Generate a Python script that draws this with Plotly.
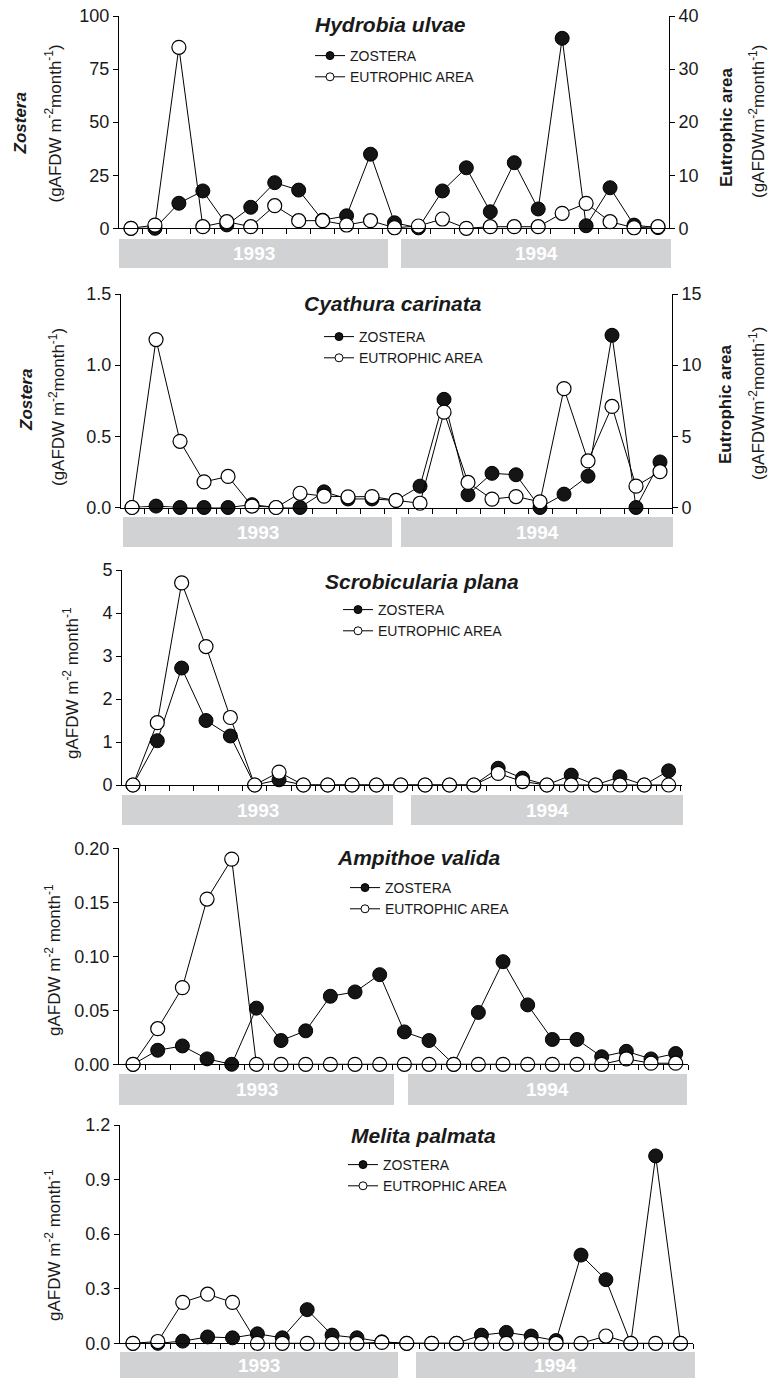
import plotly.graph_objects as go

W, H = 769, 1379
FONT = "Liberation Sans, Arial, Helvetica, sans-serif"
INK = "#1a1a1a"

# ---------------- data ----------------
samples = [0, 1, 2, 3, 4, 5, 6, 7, 8, 9, 10, 11, 12, 13, 14, 15, 16, 17, 18, 19, 20, 21, 22]
year_labels = ["1993", "1994"]
series_names = ["ZOSTERA", "EUTROPHIC AREA"]
species = ["Hydrobia ulvae", "Cyathura carinata", "Scrobicularia plana",
           "Ampithoe valida", "Melita palmata"]

hydrobia_zostera = [0, 0, 11.8, 17.6, 1.6, 9.9, 21.5, 18.0, 3.8, 5.9, 34.9, 2.6, 0.2,
                    17.6, 28.5, 7.8, 30.9, 9.1, 89.5, 1.2, 19.1, 1.5, 0.3]
hydrobia_eutrophic = [0, 0.6, 34.1, 0.3, 1.25, 0.3, 4.26, 1.44, 1.44, 0.62, 1.44, 0.1, 0.43,
                      1.75, 0, 0.3, 0.3, 0.3, 2.83, 4.7, 1.25, 0.1, 0.3]

cyathura_zostera = [0, 0.01, 0, 0, 0, 0.02, 0, 0, 0.11, 0.06, 0.06, 0.05, 0.15,
                    0.76, 0.09, 0.24, 0.23, 0, 0.094, 0.22, 1.21, 0, 0.32]
cyathura_eutrophic = [0, 11.8, 4.65, 1.8, 2.18, 0.1, 0, 1.0, 0.8, 0.75, 0.77, 0.5, 0.3,
                      6.7, 1.76, 0.59, 0.77, 0.4, 8.35, 3.27, 7.1, 1.5, 2.52]

scrobicularia_zostera = [0, 1.03, 2.72, 1.50, 1.14, 0, 0.12, 0, 0, 0, 0, 0, 0,
                         0, 0, 0.39, 0.16, 0, 0.23, 0, 0.19, 0, 0.33]
scrobicularia_eutrophic = [0, 1.45, 4.7, 3.22, 1.57, 0, 0.3, 0, 0, 0, 0, 0, 0,
                           0, 0, 0.27, 0.08, 0, 0, 0, 0, 0, 0]

ampithoe_zostera = [0, 0.013, 0.017, 0.005, 0, 0.052, 0.022, 0.031, 0.063, 0.067, 0.083, 0.030, 0.022,
                    0, 0.048, 0.095, 0.055, 0.023, 0.023, 0.007, 0.012, 0.005, 0.010]
ampithoe_eutrophic = [0, 0.033, 0.071, 0.153, 0.19, 0, 0, 0, 0, 0, 0, 0, 0,
                      0, 0, 0, 0, 0, 0, 0, 0.005, 0.001, 0.001]

melita_zostera = [0, 0, 0.012, 0.035, 0.03, 0.052, 0.03, 0.185, 0.045, 0.03, 0.008, 0, 0,
                  0, 0.045, 0.06, 0.04, 0.015, 0.485, 0.35, 0, 1.03, 0]
melita_eutrophic = [0, 0.01, 0.225, 0.27, 0.225, 0, 0, 0, 0, 0, 0.005, 0, 0,
                    0, 0, 0, 0, 0, 0, 0.04, 0, 0, 0]

zostera_series = [hydrobia_zostera, cyathura_zostera, scrobicularia_zostera,
                  ampithoe_zostera, melita_zostera]
eutrophic_series = [hydrobia_eutrophic, cyathura_eutrophic, scrobicularia_eutrophic,
                    ampithoe_eutrophic, melita_eutrophic]


# ---------------- layout helpers (pixel -> paper) ----------------
def fx(p):
    return p / W


def fy(p):
    return 1 - p / H


UNIT2 = "m<sup>-2</sup>month<sup>-1</sup>"
panels = [
    dict(xdom=(119, 669), ydom=(16, 228.3), xr=(-0.5, 22.46), yr=(0, 100), dtick=25, fmt="",
         right=dict(yr=(0, 40), dtick=10, fmt=""),
         bars=[(119, 388), (401, 671)], bary=(239, 268),
         title=(390, 25), legend=(307, 54),
         ylab=[("<b><i>Zostera</i></b>", 19.5, 124), ("(gAFDW " + UNIT2 + ")", 53.5, 124)],
         rlab=[("<b>Eutrophic area</b>", 726, 127), ("(gAFDW" + UNIT2 + ")", 757, 122)]),
    dict(xdom=(121, 672), ydom=(294, 507.5), xr=(-0.46, 22.5), yr=(0, 1.5), dtick=0.5, fmt=".1f",
         right=dict(yr=(0, 15), dtick=5, fmt=""),
         bars=[(123, 392), (401, 673)], bary=(517, 547),
         title=(393, 304), legend=(316, 335),
         ylab=[("<b><i>Zostera</i></b>", 26, 400), ("(gAFDW " + UNIT2 + ")", 57, 407)],
         rlab=[("<b>Eutrophic area</b>", 726, 404), ("(gAFDW" + UNIT2 + ")", 757, 404)]),
    dict(xdom=(122, 682), ydom=(570, 785), xr=(-0.45, 22.55), yr=(0, 5), dtick=1, fmt="",
         right=None, bars=[(122, 393), (411, 683)], bary=(795, 825),
         title=(422, 581), legend=(335, 608),
         ylab=[("gAFDW m<sup>-2</sup> month<sup>-1</sup>", 71, 683)], rlab=[]),
    dict(xdom=(119, 688), ydom=(848.3, 1064.3), xr=(-0.57, 22.5), yr=(0, 0.2), dtick=0.05, fmt=".2f",
         right=None, bars=[(119, 394), (408, 687)], bary=(1074, 1105),
         title=(419, 857), legend=(342, 886),
         ylab=[("gAFDW m<sup>-2</sup> month<sup>-1</sup>", 53, 960)], rlab=[]),
    dict(xdom=(120, 693), ydom=(1125, 1343.3), xr=(-0.52, 22.5), yr=(0, 1.2), dtick=0.3, fmt=".1f",
         right=None, bars=[(120, 398), (416, 695)], bary=(1352, 1378),
         title=(423, 1135), legend=(340, 1163),
         ylab=[("gAFDW m<sup>-2</sup> month<sup>-1</sup>", 53, 1245)], rlab=[]),
]

fig = go.Figure()
layout = dict(
    width=W, height=H, margin=dict(l=0, r=0, t=0, b=0, autoexpand=False),
    paper_bgcolor="white", plot_bgcolor="white",
    font=dict(family=FONT, color=INK, size=17),
    showlegend=True,
)
shapes, annotations = [], []

filled_marker = dict(symbol="circle", size=14, color="#151515", line=dict(color="black", width=1))
open_marker = dict(symbol="circle", size=14, color="white", line=dict(color="black", width=1.2))
line_style = dict(color="black", width=1)

right_axis_no = 6
for i, p in enumerate(panels):
    n = i + 1
    sfx = "" if n == 1 else str(n)
    xname, yname = "x" + sfx, "y" + sfx
    legname = "legend" + sfx

    axis_common = dict(showgrid=False, zeroline=False, showline=True, linecolor="black",
                       linewidth=1, ticks="outside", ticklen=5, tickcolor="black",
                       automargin=False, tickfont=dict(size=18, color=INK))
    layout["xaxis" + sfx] = dict(
        domain=[fx(p["xdom"][0]), fx(p["xdom"][1])], range=list(p["xr"]), anchor=yname,
        showgrid=False, zeroline=False, showline=True, linecolor="black", linewidth=1,
        ticks="outside", ticklen=5, tickcolor="black", showticklabels=False, automargin=False,
        tickvals=[s + 0.5 for s in samples], fixedrange=True)
    layout["yaxis" + sfx] = dict(
        domain=[fy(p["ydom"][1]), fy(p["ydom"][0])], range=list(p["yr"]), anchor=xname,
        dtick=p["dtick"], tick0=0, tickformat=p["fmt"], **axis_common)

    z_axis = yname
    e_axis = yname
    if p["right"] is not None:
        rsfx = str(right_axis_no)
        right_axis_no += 1
        layout["yaxis" + rsfx] = dict(
            overlaying=yname, side="right", anchor=xname, range=list(p["right"]["yr"]),
            dtick=p["right"]["dtick"], tick0=0, tickformat=p["right"]["fmt"], **axis_common)
        e_axis = "y" + rsfx

    fig.add_trace(go.Scatter(x=samples, y=zostera_series[i], mode="lines+markers",
                             xaxis=xname, yaxis=z_axis, line=line_style, marker=filled_marker,
                             cliponaxis=False, showlegend=False, name=series_names[0]))
    fig.add_trace(go.Scatter(x=samples, y=eutrophic_series[i], mode="lines+markers",
                             xaxis=xname, yaxis=e_axis, line=line_style, marker=open_marker,
                             cliponaxis=False, showlegend=False, name=series_names[1]))
    # legend entries (small symbols, as in the original key)
    for k, mk in enumerate([dict(size=8, color="#151515", line=dict(color="black", width=1)),
                            dict(size=8, color="white", line=dict(color="black", width=1))]):
        fig.add_trace(go.Scatter(x=[None], y=[None], mode="lines+markers", xaxis=xname, yaxis=yname,
                                 line=line_style, marker=mk, name=series_names[k],
                                 legend=legname, legendgroup=f"g{n}{k}", showlegend=True))
    lx, ly = p["legend"]
    layout[legname] = dict(x=fx(lx + 3), y=fy(ly - 14), xanchor="left", yanchor="top",
                           bgcolor="rgba(0,0,0,0)", borderwidth=0, traceorder="grouped",
                           tracegroupgap=0, font=dict(size=14, color=INK), itemwidth=30)

    # year bars under the x axis
    for (bx0, bx1), lab in zip(p["bars"], year_labels):
        shapes.append(dict(type="rect", xref="paper", yref="paper",
                           x0=fx(bx0), x1=fx(bx1), y0=fy(p["bary"][1]), y1=fy(p["bary"][0]),
                           fillcolor="#d1d2d4", line=dict(width=0), layer="below"))
        annotations.append(dict(text=lab, xref="paper", yref="paper",
                                x=fx((bx0 + bx1) / 2), y=fy((p["bary"][0] + p["bary"][1]) / 2),
                                xanchor="center", yanchor="middle", showarrow=False,
                                font=dict(size=19, color="white", weight="bold")))
    # species title
    tx, ty = p["title"]
    annotations.append(dict(text="<b><i>" + species[i] + "</i></b>", xref="paper", yref="paper",
                            x=fx(tx), y=fy(ty), xanchor="center", yanchor="middle",
                            showarrow=False, font=dict(size=21, color=INK)))
    # axis titles
    for txt, ax_, ay_ in p["ylab"] + p["rlab"]:
        annotations.append(dict(text=txt, xref="paper", yref="paper", x=fx(ax_), y=fy(ay_),
                                xanchor="center", yanchor="middle", textangle=-90,
                                showarrow=False, font=dict(size=17, color=INK)))

layout["shapes"] = shapes
layout["annotations"] = annotations
fig.update_layout(**layout)
fig.write_html("out.html", config={"displayModeBar": False},
               post_script="document.body.style.margin='0';document.body.style.overflow='hidden';")
